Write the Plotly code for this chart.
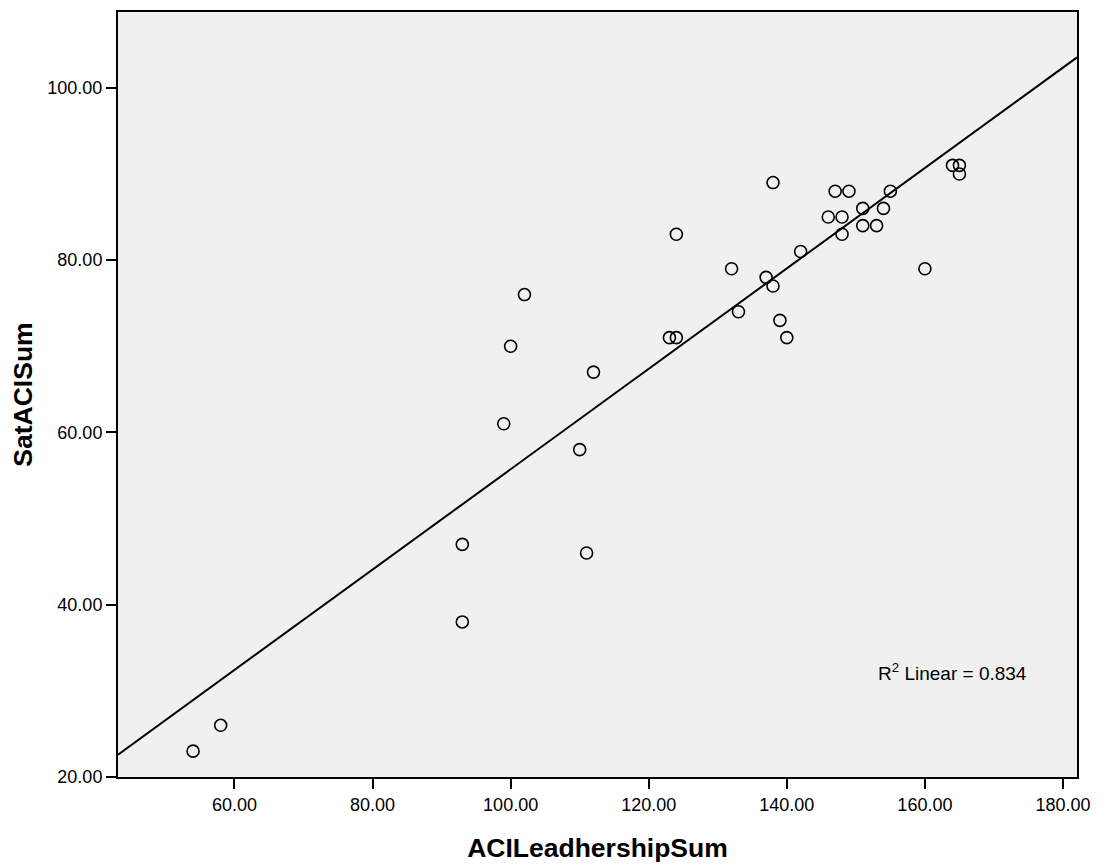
import numpy as np
import plotly.graph_objects as go

leadership = [54, 58, 93, 93, 99, 100, 102, 110, 111, 112, 123, 124, 124, 132, 133,
              137, 138, 138, 139, 140, 142, 146, 147, 148, 148, 149, 151, 151, 153,
              154, 155, 160, 164, 165, 165]
satisfaction = [23, 26, 38, 47, 61, 70, 76, 58, 46, 67, 71, 71, 83, 79, 74,
                78, 77, 89, 73, 71, 81, 85, 88, 85, 83, 88, 86, 84, 84,
                86, 88, 79, 91, 91, 90]
x_ticks = [60, 80, 100, 120, 140, 160, 180]
y_ticks = [20, 40, 60, 80, 100]
x_range = [43.13, 182.03]
y_range = [20, 108.8]
r2_label = "R<sup>2</sup> Linear = 0.834"

slope, intercept = np.polyfit(leadership, satisfaction, 1)
line_x = np.array(x_range)
line_y = slope * line_x + intercept

FONT = "Liberation Sans, Arial, sans-serif"

fig = go.Figure()
fig.add_trace(go.Scatter(x=line_x, y=line_y, mode="lines",
                         line=dict(color="black", width=2), showlegend=False, hoverinfo="skip"))
fig.add_trace(go.Scatter(x=leadership, y=satisfaction, mode="markers",
                         marker=dict(symbol="circle-open", size=12, color="black",
                                     line=dict(width=1.6, color="black")),
                         showlegend=False))

fig.add_annotation(x=0.87, y=0.137, xref="paper", yref="paper", text=r2_label,
                   xanchor="center", yanchor="middle",
                   showarrow=False, font=dict(size=19, color="black", family=FONT))

axis_common = dict(showline=True, linecolor="black", linewidth=2, mirror=True,
                   ticks="outside", ticklen=10, tickwidth=2, tickcolor="black",
                   showgrid=False, zeroline=False,
                   tickfont=dict(size=18, color="black", family=FONT))
fig.update_xaxes(range=x_range, tickvals=x_ticks, tickformat=".2f",
                 title=dict(text="<b>ACILeadhershipSum</b>", standoff=25,
                            font=dict(size=26.5, color="black", family=FONT)),
                 **axis_common)
fig.update_yaxes(range=y_range, tickvals=y_ticks, tickformat=".2f",
                 title=dict(text="<b>SatACISum</b>", standoff=14,
                            font=dict(size=26.5, color="black", family=FONT)),
                 **axis_common)
fig.update_layout(width=1099, height=857, paper_bgcolor="white", plot_bgcolor="#F0F0F0",
                  margin=dict(l=110, r=30, t=2, b=88))
fig.write_html("out.html")
